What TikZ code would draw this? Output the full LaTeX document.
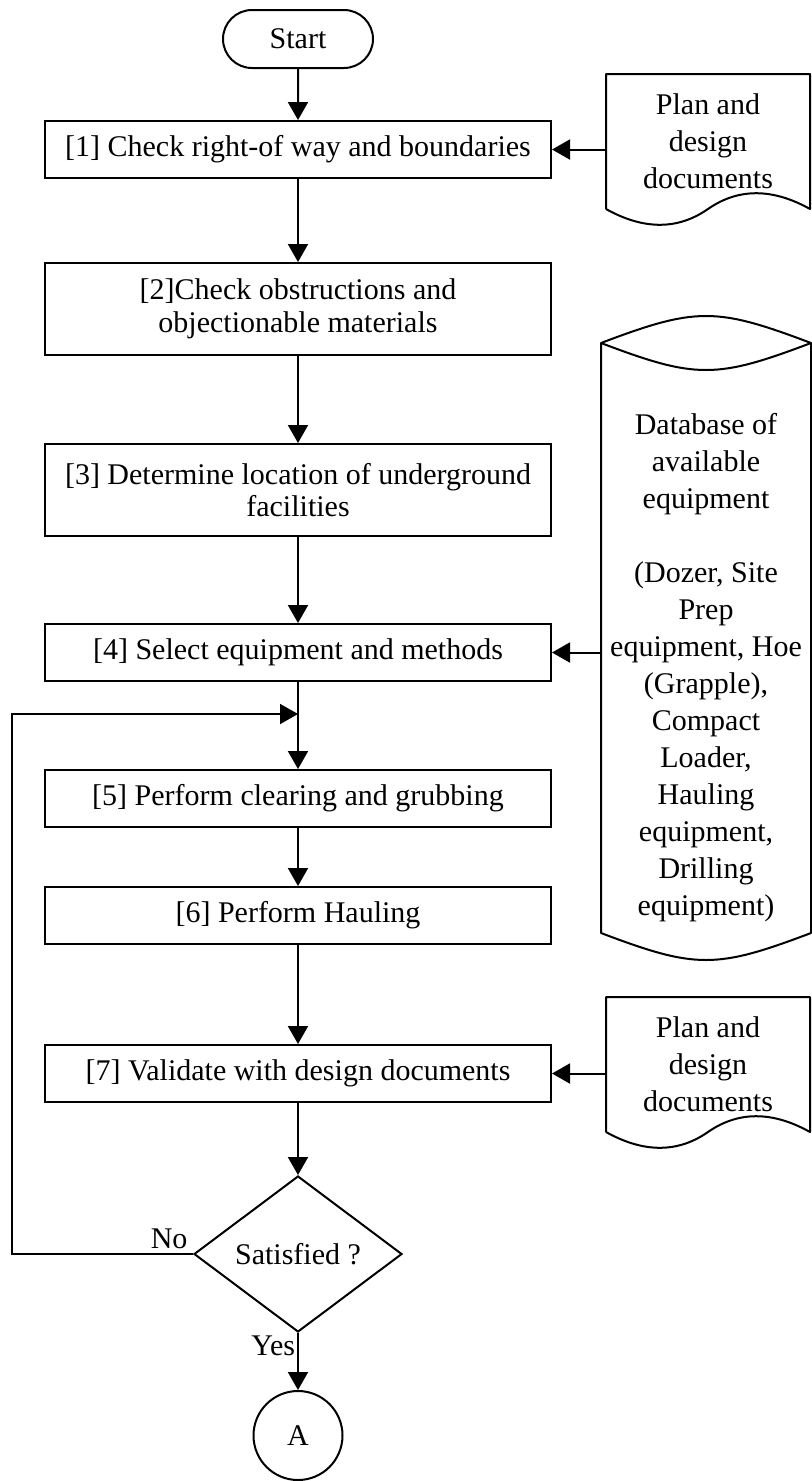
\documentclass[tikz,border=0pt]{standalone}
\usepackage{fontspec}
\setmainfont{Liberation Serif}
\usepackage{tikz}
\usetikzlibrary{arrows.meta,positioning,shapes.geometric,shapes.misc}

\tikzset{
  process/.style={draw, line width=0.8pt, minimum width=202.4pt, inner sep=0pt, align=center, font=\fontsize{12pt}{13pt}\selectfont},
  terminal/.style={draw, rounded rectangle, line width=0.8pt, minimum width=60pt, minimum height=23.2pt, inner sep=0pt},
  decision/.style={draw, diamond, line width=0.8pt, minimum width=83.2pt, minimum height=62.4pt, inner sep=0pt},
  connector/.style={draw, circle, line width=0.8pt, minimum size=35.6pt, inner sep=0pt},
  store/.style={inner sep=0pt, align=center, font=\fontsize{12pt}{14.8pt}\selectfont},
  flow/.style={line width=0.8pt, -{Triangle[length=7.2pt,width=8pt]}},
  outline/.style={line width=0.8pt, line join=round},
}

% document symbol round a store node
\newcommand{\docoutline}[1]{%
  \draw[outline, shift={(#1.center)}] (-102,67.5) -- (-102,-67.5) -- (102,-67.5) -- (102,67.5)
    .. controls (68,48.5) and (33,44.5) .. (0,67.5)
    .. controls (-33,90.5) and (-68,86.5) .. (-102,67.5);}
% database symbol round a store node
\newcommand{\dboutline}[1]{%
  \draw[outline, shift={(#1.center)}] (-105,-325) -- (-105,265)
    .. controls (-10,301) and (10,301) .. (105,265) -- (105,-325)
    .. controls (10,-361) and (-10,-361) .. (-105,-325)
    .. controls (-10,-289) and (10,-289) .. (105,-325);}

\begin{document}
\begin{tikzpicture}[x=0.4pt, y=-0.4pt, font=\fontsize{12pt}{14.8pt}\selectfont]
  \useasboundingbox (0,0) rectangle (812,1481);

  \node[terminal] (start) at (298,39) {Start};
  \node[process, minimum height=22.8pt] (s1) at (298,149.5) {[1] Check right-of way and boundaries};
  \node[process, minimum height=36.8pt] (s2) at (298,309) {[2]Check obstructions and\\objectionable materials};
  \node[process, minimum height=36.8pt] (s3) at (298,490) {[3] Determine location of underground\\facilities};
  \node[process, minimum height=22.8pt] (s4) at (298,652.5) {[4] Select equipment and methods};
  \node[process, minimum height=22.8pt] (s5) at (298,798.5) {[5] Perform clearing and grubbing};
  \node[process, minimum height=22.8pt] (s6) at (298,915.5) {[6] Perform Hauling};
  \node[process, minimum height=22.8pt] (s7) at (298,1073.5) {[7] Validate with design documents};
  \node[decision] (sat) at (298,1254) {Satisfied ?};
  \node[connector] (a) at (298,1435.5) {A};

  \node[store, minimum width=81.6pt, minimum height=54pt] (plan1) at (708,141.5) {Plan and\\design\\documents};
  \node[store, minimum width=81.6pt, minimum height=54pt] (plan2) at (708,1064.5) {Plan and\\design\\documents};
  \node[store, minimum width=84pt] (db) at (706,668) {Database of\\available\\equipment\\[14.8pt](Dozer, Site\\Prep\\equipment, Hoe\\(Grapple),\\Compact\\Loader,\\Hauling\\equipment,\\Drilling\\equipment)};
  \docoutline{plan1}
  \docoutline{plan2}
  \dboutline{db}

  \coordinate (join) at (298,714);
  \coordinate (bend) at (12,714);

  \draw[flow] (start) -- (s1);
  \draw[flow] (s1) -- (s2);
  \draw[flow] (s2) -- (s3);
  \draw[flow] (s3) -- (s4);
  \draw[flow] (s4) -- (s5);
  \draw[flow] (s5) -- (s6);
  \draw[flow] (s6) -- (s7);
  \draw[flow] (s7) -- (sat);
  \draw[flow] (sat) -- (a);
  \draw[flow] (sat.west) -| (bend) -- (join);

  \draw[flow] (plan1.west |- s1.east) -- (s1.east);
  \draw[flow] (db.west |- s4.east) -- (s4.east);
  \draw[flow] (plan2.west |- s7.east) -- (s7.east);

  \node[above left=0pt and 0pt of sat.west, inner sep=2pt] (no) {No};
  \node[below left=0pt and 0pt of sat.south, inner sep=1pt] (yes) {Yes};
\end{tikzpicture}
\end{document}
